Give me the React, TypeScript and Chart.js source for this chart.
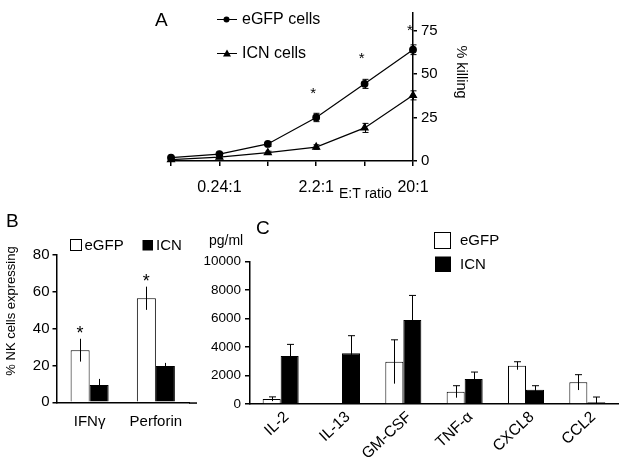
import React, { useEffect, useRef } from "react";
import { Chart, registerables } from "chart.js";
Chart.register(...registerables);

const FONT = "'Liberation Sans', Arial, Helvetica, sans-serif";
Chart.defaults.font.family = FONT;
Chart.defaults.color = "#000";

// ---------- Panel A: % killing vs E:T ratio ----------
const ratioLabels = ["", "0.24:1", "", "2.2:1", "", "20:1"];
const egfpKilling = [1.9, 4.0, 9.8, 25.0, 44.3, 63.9];
const egfpKillingErr = [0.8, 0.8, 1.4, 2.4, 2.6, 2.8];
const icnKilling = [0.8, 2.2, 4.8, 8.0, 19.0, 37.7];
const icnKillingErr = [0.6, 0.6, 0.8, 1.3, 2.6, 2.6];
const killingStars = [null, null, null, 41, 61, 77.5];
const killingTicks = [0, 25, 50, 75];

// ---------- Panel B: % NK cells expressing ----------
const nkCategories = ["IFNγ", "Perforin"];
const nkEgfp = [28.3, 56.5];
const nkEgfpErr = [6.2, 6.3];
const nkIcn = [9.4, 19.7];
const nkIcnErr = [3.3, 1.7];
const nkStars = [40.2, 68.3];

// ---------- Panel C: cytokines pg/ml ----------
const cytokines = ["IL-2", "IL-13", "GM-CSF", "TNF-α", "CXCL8", "CCL2"];
const cytoEgfp = [350, 50, 2970, 865, 2690, 1520];
const cytoEgfpErr = [150, 0, 1540, 420, 280, 540];
const cytoIcn = [3370, 3560, 5900, 1755, 1005, 120];
const cytoIcnErr = [820, 1240, 1730, 490, 280, 370];

const W = 623;
const H = 457;

function drawErrorBars(
  chart: any,
  dsIndex: number,
  errs: number[],
  capHalf: number,
  capBottom: boolean
) {
  const ctx = chart.ctx;
  const meta = chart.getDatasetMeta(dsIndex);
  const ys = chart.scales.y;
  const vals = chart.data.datasets[dsIndex].data as number[];
  ctx.save();
  ctx.strokeStyle = "#000";
  ctx.lineWidth = 1;
  meta.data.forEach((el: any, i: number) => {
    const e = errs[i];
    if (!e) return;
    const x = Math.round(el.x) + 0.5;
    const yt = ys.getPixelForValue(vals[i] + e);
    const yb = ys.getPixelForValue(Math.max(0, vals[i] - e));
    ctx.beginPath();
    ctx.moveTo(x, yt);
    ctx.lineTo(x, yb);
    if (capHalf) {
      ctx.moveTo(x - capHalf, yt);
      ctx.lineTo(x + capHalf, yt);
      if (capBottom) {
        ctx.moveTo(x - capHalf, yb);
        ctx.lineTo(x + capHalf, yb);
      }
    }
    ctx.stroke();
  });
  ctx.restore();
}

function text(ctx: any, s: string, x: number, y: number, size: number, align = "left", baseline = "alphabetic") {
  ctx.save();
  ctx.font = `${size}px ${FONT}`;
  ctx.fillStyle = "#000";
  ctx.textAlign = align;
  ctx.textBaseline = baseline;
  ctx.fillText(s, x, y);
  ctx.restore();
}

function star(ctx: any, x: number, cy: number, size: number) {
  text(ctx, "*", x, cy + size * 0.58, size, "center");
}

function configA(): any {
  const yW = 80;
  const xH = 50;
  return {
    type: "line",
    data: {
      labels: ratioLabels,
      datasets: [
        {
          label: "eGFP cells",
          data: egfpKilling,
          borderColor: "#000",
          borderWidth: 1.2,
          pointStyle: "circle",
          pointRadius: 3.3,
          pointBackgroundColor: "#000",
          pointBorderColor: "#000",
          tension: 0,
          clip: false,
        },
        {
          label: "ICN cells",
          data: icnKilling,
          borderColor: "#000",
          borderWidth: 1.2,
          pointStyle: "triangle",
          pointRadius: 4,
          pointBackgroundColor: "#000",
          pointBorderColor: "#000",
          tension: 0,
          clip: false,
        },
      ],
    },
    options: {
      animation: false,
      responsive: false,
      events: [],
      layout: { padding: { left: 171, top: 12, right: W - 413 - yW, bottom: H - 161 - xH } },
      plugins: { legend: { display: false }, tooltip: { enabled: false } },
      scales: {
        x: {
          offset: false,
          grid: { display: true, drawOnChartArea: false, tickLength: 5, color: "#000", lineWidth: 1.5 },
          border: { display: true, color: "#000", width: 1.5 },
          ticks: { autoSkip: false, maxRotation: 0, padding: 12, font: { size: 16 }, color: "#000" },
          afterFit: (s: any) => { s.height = xH; },
        },
        y: {
          position: "right",
          min: 0,
          max: 85,
          afterBuildTicks: (s: any) => { s.ticks = killingTicks.map((v) => ({ value: v })); },
          grid: { display: true, drawOnChartArea: false, tickLength: 4, color: "#000", lineWidth: 1.5 },
          border: { display: true, color: "#000", width: 1.5 },
          ticks: { padding: 4, font: { size: 15 }, color: "#000" },
          afterFit: (s: any) => { s.width = yW; },
        },
      },
    },
    plugins: [
      {
        id: "panelA",
        afterDatasetsDraw(chart: any) {
          drawErrorBars(chart, 0, egfpKillingErr, 3, true);
          drawErrorBars(chart, 1, icnKillingErr, 3, true);
        },
        afterDraw(chart: any) {
          const ctx = chart.ctx;
          text(ctx, "A", 155, 25.5, 19);
          ctx.save();
          ctx.strokeStyle = "#000";
          ctx.lineWidth = 1.2;
          ctx.beginPath();
          ctx.moveTo(217, 19.5);
          ctx.lineTo(237, 19.5);
          ctx.moveTo(217, 53.5);
          ctx.lineTo(237, 53.5);
          ctx.stroke();
          ctx.fillStyle = "#000";
          ctx.beginPath();
          ctx.arc(226.5, 19.5, 3, 0, Math.PI * 2);
          ctx.fill();
          ctx.beginPath();
          ctx.moveTo(227, 49.5);
          ctx.lineTo(231, 56.5);
          ctx.lineTo(223, 56.5);
          ctx.closePath();
          ctx.fill();
          ctx.restore();
          text(ctx, "eGFP cells", 242, 19.5, 16, "left", "middle");
          text(ctx, "ICN cells", 242, 53.5, 16, "left", "middle");
          text(ctx, "E:T ratio", 339, 198, 14);
          ctx.save();
          ctx.translate(461, 72);
          ctx.rotate(Math.PI / 2);
          text(ctx, "% killing", 0, 0, 14.5, "center", "middle");
          ctx.restore();
          const xs = chart.scales.x;
          const ys = chart.scales.y;
          killingStars.forEach((v, i) => {
            if (v == null) return;
            star(ctx, xs.getPixelForValue(i) - 3, ys.getPixelForValue(v), 15);
          });
        },
      },
    ],
  };
}

function configB(): any {
  const yW = 50;
  const xH = 40;
  const left = 56.5;
  const right = 189;
  const top = 255;
  const bottom = 402.3;
  return {
    type: "bar",
    data: {
      labels: nkCategories,
      datasets: [
        { label: "eGFP", data: nkEgfp, backgroundColor: "#fff", borderColor: "#000", borderWidth: 1, borderSkipped: "start" },
        { label: "ICN", data: nkIcn, backgroundColor: "#000", borderColor: "#000", borderWidth: 1, borderSkipped: "start" },
      ],
    },
    options: {
      animation: false,
      responsive: false,
      events: [],
      datasets: { bar: { barPercentage: 1, categoryPercentage: 0.574 } },
      layout: { padding: { left: left - yW, top: top, right: W - right, bottom: H - bottom - xH } },
      plugins: { legend: { display: false }, tooltip: { enabled: false } },
      scales: {
        x: {
          grid: { display: false },
          border: { display: true, color: "#000", width: 1.5 },
          ticks: { padding: 3, font: { size: 15 }, color: "#000" },
          afterFit: (s: any) => { s.height = xH; },
        },
        y: {
          min: 0,
          max: 80,
          ticks: { stepSize: 20, padding: 3, font: { size: 15 }, color: "#000" },
          grid: { display: true, drawOnChartArea: false, tickLength: 4, color: "#000", lineWidth: 1.5 },
          border: { display: true, color: "#000", width: 1.5 },
          afterFit: (s: any) => { s.width = yW; },
        },
      },
    },
    plugins: [
      {
        id: "panelB",
        afterDatasetsDraw(chart: any) {
          drawErrorBars(chart, 0, nkEgfpErr, 0, false);
          drawErrorBars(chart, 1, nkIcnErr, 0, false);
        },
        afterDraw(chart: any) {
          const ctx = chart.ctx;
          text(ctx, "B", 6, 227, 19);
          ctx.save();
          ctx.strokeStyle = "#000";
          ctx.lineWidth = 1.5;
          ctx.beginPath();
          ctx.moveTo(chart.chartArea.right, chart.chartArea.bottom + 0.75);
          ctx.lineTo(197, chart.chartArea.bottom + 0.75);
          ctx.stroke();
          ctx.lineWidth = 1;
          ctx.strokeRect(70.5, 239.5, 11, 11);
          ctx.fillStyle = "#000";
          ctx.fillRect(142.5, 240, 10.5, 10.5);
          ctx.restore();
          text(ctx, "eGFP", 84.5, 245.5, 15, "left", "middle");
          text(ctx, "ICN", 156, 245.5, 15, "left", "middle");
          ctx.save();
          ctx.translate(11, 311);
          ctx.rotate(-Math.PI / 2);
          text(ctx, "% NK cells expressing", 0, 0, 13, "center", "middle");
          ctx.restore();
          const meta = chart.getDatasetMeta(0);
          const ys = chart.scales.y;
          nkStars.forEach((v, i) => {
            star(ctx, meta.data[i].x, ys.getPixelForValue(v), 18);
          });
        },
      },
    ],
  };
}

function configC(): any {
  const yW = 60;
  const xH = 53;
  const left = 250;
  const right = 618;
  const top = 261.7;
  const bottom = 404;
  return {
    type: "bar",
    data: {
      labels: cytokines,
      datasets: [
        { label: "eGFP", data: cytoEgfp, backgroundColor: "#fff", borderColor: "#000", borderWidth: 1, borderSkipped: "start" },
        { label: "ICN", data: cytoIcn, backgroundColor: "#000", borderColor: "#000", borderWidth: 1, borderSkipped: "start" },
      ],
    },
    options: {
      animation: false,
      responsive: false,
      events: [],
      datasets: { bar: { barPercentage: 1, categoryPercentage: 0.587 } },
      layout: { padding: { left: left - yW, top: top, right: W - right, bottom: H - bottom - xH } },
      plugins: { legend: { display: false }, tooltip: { enabled: false } },
      scales: {
        x: {
          grid: { display: false },
          border: { display: true, color: "#000", width: 1.5 },
          ticks: {
            autoSkip: false,
            minRotation: 43,
            maxRotation: 43,
            padding: -4,
            labelOffset: 6,
            font: { size: 15.5 },
            color: "#000",
          },
          afterFit: (s: any) => { s.height = xH; },
        },
        y: {
          min: 0,
          max: 10000,
          ticks: {
            stepSize: 2000,
            padding: 4,
            font: { size: 13.5 },
            color: "#000",
            callback: (v: any) => String(v),
          },
          grid: { display: true, drawOnChartArea: false, tickLength: 5, color: "#000", lineWidth: 1.5 },
          border: { display: true, color: "#000", width: 1.5 },
          afterFit: (s: any) => { s.width = yW; },
        },
      },
    },
    plugins: [
      {
        id: "panelC",
        afterDatasetsDraw(chart: any) {
          drawErrorBars(chart, 0, cytoEgfpErr, 3.5, false);
          drawErrorBars(chart, 1, cytoIcnErr, 3.5, false);
        },
        afterDraw(chart: any) {
          const ctx = chart.ctx;
          text(ctx, "C", 256, 233.5, 19);
          text(ctx, "pg/ml", 209, 241, 14, "left", "middle");
          ctx.save();
          ctx.strokeStyle = "#000";
          ctx.lineWidth = 1;
          ctx.strokeRect(434.5, 232.5, 16, 16);
          ctx.fillStyle = "#000";
          ctx.fillRect(435, 256.5, 16, 15.5);
          ctx.restore();
          text(ctx, "eGFP", 460, 240.5, 15, "left", "middle");
          text(ctx, "ICN", 460, 264.5, 15, "left", "middle");
        },
      },
    ],
  };
}

function ChartCanvas({ make }: { make: () => any }) {
  const ref = useRef<HTMLCanvasElement>(null);
  useEffect(() => {
    const chart = new Chart(ref.current as HTMLCanvasElement, make());
    return () => chart.destroy();
  }, [make]);
  return (
    <canvas
      ref={ref}
      width={W}
      height={H}
      style={{ position: "absolute", left: 0, top: 0, width: W, height: H }}
    />
  );
}

export default function App() {
  return (
    <div style={{ position: "fixed", left: 0, top: 0, width: W, height: H, background: "#fff" }}>
      <ChartCanvas make={configA} />
      <ChartCanvas make={configB} />
      <ChartCanvas make={configC} />
    </div>
  );
}
